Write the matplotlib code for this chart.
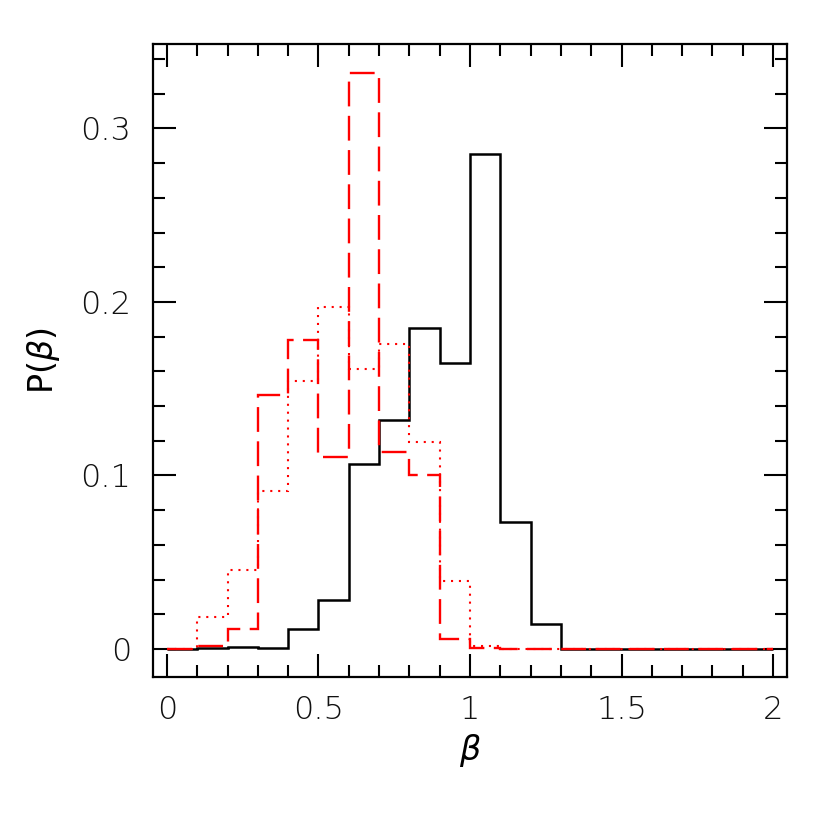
import numpy as np
import matplotlib
matplotlib.use("Agg")
import matplotlib.pyplot as plt

# Bin edges (beta from 0 to 2 in steps of 0.1)
edges = [0.0, 0.1, 0.2, 0.3, 0.4, 0.5, 0.6, 0.7, 0.8, 0.9, 1.0,
         1.1, 1.2, 1.3, 1.4, 1.5, 1.6, 1.7, 1.8, 1.9, 2.0]

# Black solid histogram
black_solid = [0.0, 0.0005, 0.001, 0.0005, 0.0113, 0.0280, 0.1064, 0.1320,
               0.1852, 0.1647, 0.2853, 0.0732, 0.0146, 0.0, 0.0, 0.0,
               0.0, 0.0, 0.0, 0.0]

# Red dashed histogram
red_dashed = [0.0, 0.0017, 0.0113, 0.1464, 0.1780, 0.1108, 0.3318, 0.1134,
              0.1003, 0.0058, 0.0008, 0.0, 0.0, 0.0, 0.0, 0.0,
              0.0, 0.0, 0.0, 0.0]

# Red dotted histogram
red_dotted = [0.0, 0.0183, 0.0455, 0.0910, 0.1547, 0.1970, 0.1612, 0.1756,
              0.1191, 0.0394, 0.0015, 0.0, 0.0, 0.0, 0.0, 0.0,
              0.0, 0.0, 0.0, 0.0]

xticks = [0, 0.5, 1, 1.5, 2]
xticklabels = ["0", "0.5", "1", "1.5", "2"]
yticks = [0, 0.1, 0.2, 0.3]
yticklabels = ["0", "0.1", "0.2", "0.3"]

plt.rcParams['font.family'] = ['DejaVu Sans']
plt.rcParams['font.weight'] = 'light'
plt.rcParams['mathtext.fontset'] = 'dejavusans'

fig = plt.figure(figsize=(8.3, 8.3), dpi=100)
ax = fig.add_axes([0.1847, 0.184, 0.9478 - 0.1847, 0.9466 - 0.184])

ax.stairs(black_solid, edges, color='black', lw=1.8, baseline=0, zorder=2)
l1 = ax.stairs(red_dotted, edges, color='red', lw=1.5, baseline=0, zorder=3)
l1.set_linestyle((0, (1.0, 2.8)))
l2 = ax.stairs(red_dashed, edges, color='red', lw=1.7, baseline=0, zorder=4)
l2.set_linestyle((0, (10.5, 4)))

ax.set_xlim(-0.045, 2.045)
ax.set_ylim(-0.0163, 0.3485)

ax.set_xticks(xticks)
ax.set_xticklabels(xticklabels)
ax.set_yticks(yticks)
ax.set_yticklabels(yticklabels)
ax.set_xticks(np.arange(0, 2.01, 0.1), minor=True)
ax.set_yticks(np.arange(0, 0.345, 0.02), minor=True)

ax.tick_params(which='both', direction='in', top=True, right=True,
               width=1.5, labelsize=23, labelcolor='#111111')
ax.tick_params(which='major', length=16.5)
ax.tick_params(which='minor', length=8.6)
ax.tick_params(axis='y', which='major', pad=16)
ax.tick_params(axis='x', which='major', pad=13)

for s in ax.spines.values():
    s.set_linewidth(1.6)

ax.set_xlabel(r'$\beta$', fontsize=24, labelpad=5)
ax.set_ylabel(r'P($\beta$)', fontsize=24, labelpad=13)

fig.savefig('out.png', dpi=100)
